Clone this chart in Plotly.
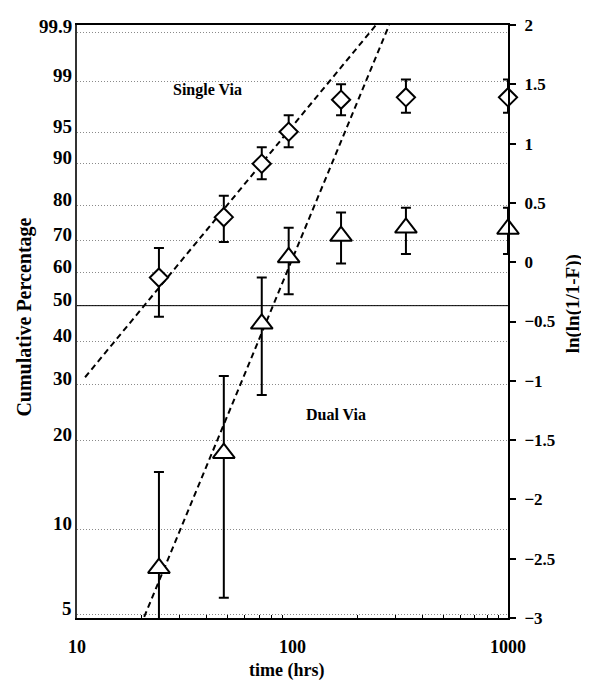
import numpy as np
import plotly.graph_objects as go

# time points (hrs)
time_hrs = [24, 48, 72, 96, 168, 336, 1000]

# ln(ln(1/(1-F)))
single_via = [-0.13, 0.38, 0.83, 1.10, 1.37, 1.39, 1.39]
single_hi = [0.12, 0.56, 0.97, 1.24, 1.50, 1.54, 1.54]
single_lo = [-0.46, 0.17, 0.70, 0.97, 1.24, 1.26, 1.26]

dual_via = [-2.58, -1.61, -0.52, 0.04, 0.22, 0.29, 0.28]
dual_hi = [-1.77, -0.96, -0.13, 0.29, 0.42, 0.46, 0.46]
dual_lo = [-3.04, -2.83, -1.12, -0.27, -0.01, 0.07, 0.07]

# fitted lines (end points)
single_fit_t = [10.9, 244]
single_fit_y = [-0.97, 2.0]
dual_fit_t = [20.5, 281]
dual_fit_y = [-2.99, 2.0]

# left axis labels: cumulative percentage
pct_labels = ["5", "10", "20", "30", "40", "50", "60", "70", "80", "90", "95", "99", "99.9"]
pct_vals = np.array([float(p) for p in pct_labels]) / 100.0
pct_pos = np.log(np.log(1.0 / (1.0 - pct_vals)))

FONT = "Liberation Serif"
DASH = "6px,4px"

fig = go.Figure()

fig.add_trace(go.Scatter(x=single_fit_t, y=single_fit_y, mode="lines",
                         line=dict(color="black", width=2, dash=DASH),
                         showlegend=False, hoverinfo="skip"))
fig.add_trace(go.Scatter(x=dual_fit_t, y=dual_fit_y, mode="lines",
                         line=dict(color="black", width=2, dash=DASH),
                         showlegend=False, hoverinfo="skip"))

s_up = [h - v for h, v in zip(single_hi, single_via)]
s_dn = [v - l for l, v in zip(single_lo, single_via)]
d_up = [h - v for h, v in zip(dual_hi, dual_via)]
d_dn = [v - l for l, v in zip(dual_lo, dual_via)]

fig.add_trace(go.Scatter(
    x=time_hrs, y=single_via, mode="markers", name="Single Via",
    marker=dict(symbol="diamond", size=14, color="white",
                line=dict(color="black", width=2)),
    error_y=dict(type="data", symmetric=False, array=s_up, arrayminus=s_dn,
                 color="black", thickness=2, width=5),
    showlegend=False, cliponaxis=False))

fig.add_trace(go.Scatter(
    x=time_hrs, y=dual_via, mode="markers", name="Dual Via",
    marker=dict(symbol="triangle-up", size=19, color="white",
                line=dict(color="black", width=2)),
    error_y=dict(type="data", symmetric=False, array=d_up, arrayminus=d_dn,
                 color="black", thickness=2, width=5),
    showlegend=False, cliponaxis=False))

# invisible trace to carry the right axis
fig.add_trace(go.Scatter(x=[10], y=[0], yaxis="y2", mode="markers",
                         marker=dict(opacity=0), showlegend=False, hoverinfo="skip"))

# 50% reference line
y50 = float(pct_pos[pct_labels.index("50")])
fig.add_shape(type="line", xref="paper", x0=0, x1=1, yref="y", y0=y50, y1=y50,
              line=dict(color="black", width=1))

annotations = []
for lab, pos in zip(pct_labels, pct_pos):
    annotations.append(dict(x=0, xref="paper", y=float(pos), yref="y", text=lab,
                            showarrow=False, xanchor="right", yanchor="middle",
                            xshift=-3, yshift=6,
                            font=dict(family=FONT, size=19, color="black", weight="bold")))

annotations += [
    dict(x=np.log10(40.5), y=1.45, xref="x", yref="y", text="Single Via", showarrow=False,
         xanchor="center", yanchor="middle",
         font=dict(family=FONT, size=16, color="black", weight="bold")),
    dict(x=np.log10(159), y=-1.28, xref="x", yref="y", text="Dual Via", showarrow=False,
         xanchor="center", yanchor="middle",
         font=dict(family=FONT, size=16, color="black", weight="bold")),
    dict(x=-0.121, y=0.508, xref="paper", yref="paper", text="Cumulative Percentage",
         textangle=-90, showarrow=False, xanchor="center", yanchor="middle",
         font=dict(family=FONT, size=20, color="black", weight="bold")),
    dict(x=1.150, y=0.530, xref="paper", yref="paper", text="ln(ln(1/1-F))",
         textangle=-90, showarrow=False, xanchor="center", yanchor="middle",
         font=dict(family=FONT, size=19, color="black", weight="bold")),
    dict(x=0.487, y=-0.088, xref="paper", yref="paper", text="time (hrs)",
         showarrow=False, xanchor="center", yanchor="middle",
         font=dict(family=FONT, size=18, color="black", weight="bold")),
]

fig.update_layout(
    width=589, height=681,
    margin=dict(l=69, r=89, t=8, b=71),
    plot_bgcolor="white", paper_bgcolor="white",
    font=dict(family=FONT, color="black", weight="bold"),
    annotations=annotations,
    xaxis=dict(type="log", range=[1, 3], tickvals=[10, 100, 1000], ticktext=["10", "100", "1000"],
               showgrid=False, zeroline=False, showline=True, mirror=True,
               linecolor="black", linewidth=2, ticks="", ticklabelstandoff=11,
               tickfont=dict(family=FONT, size=18, weight="bold"),
               minor=dict(ticks="inside", ticklen=3, tickcolor="black",
                          tickvals=[20, 30, 40, 50, 60, 70, 80, 90,
                                    200, 300, 400, 500, 600, 700, 800, 900])),
    yaxis=dict(range=[-3, 2], tickvals=pct_pos.tolist(), showticklabels=False,
               showgrid=True, gridcolor="#8a8a8a", griddash="1px,2px", gridwidth=1,
               zeroline=False, showline=True, linecolor="#333333", linewidth=2, ticks=""),
    yaxis2=dict(range=[-3, 2], overlaying="y", side="right", dtick=0.5, tick0=0,
                showgrid=False, zeroline=False, showline=True, linecolor="black",
                linewidth=2, ticks="outside", ticklen=6, tickcolor="black", tickwidth=1.5,
                ticklabelstandoff=5,
                tickfont=dict(family=FONT, size=17, weight="bold")),
)

fig.write_html("out.html")
